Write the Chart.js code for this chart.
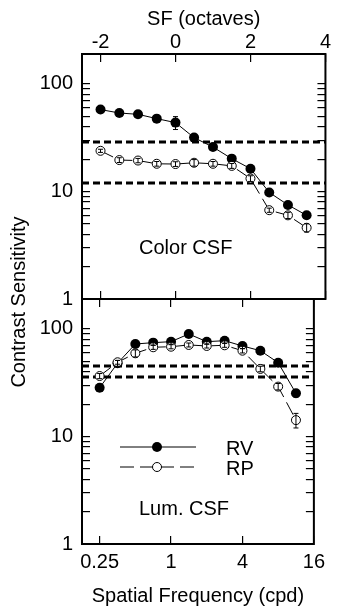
<!DOCTYPE html>
<html>
<head>
<meta charset="utf-8">
<script src="https://cdn.jsdelivr.net/npm/chart.js@4.4.1/dist/chart.umd.min.js"></script>
<style>
  body { margin: 0; background: #fff; }
  #wrap { position: relative; width: 339px; height: 611px; overflow: hidden; }
  canvas { position: absolute; left: 0; top: 0; }
  #ylab {
    position: absolute; left: -131.5px; top: 290px; width: 300px; height: 24px;
    line-height: 24px; text-align: center; transform: rotate(-90deg);
    font: 20px "Liberation Sans", Arial, sans-serif; color: #000;
  }
</style>
</head>
<body>
<div id="wrap">
  <canvas id="colorChart" width="339" height="611"></canvas>
  <canvas id="lumChart" width="339" height="611"></canvas>
  <div id="ylab">Contrast Sensitivity</div>
</div>
<script>
// spatial frequencies (cpd), half-octave steps
const freqs = [0.25, 0.354, 0.5, 0.707, 1, 1.41, 2, 2.83, 4, 5.66, 8, 11.3];
const octaveTicks = [-2, 0, 2, 4];
const cpdTicks = [0.25, 1, 4, 16];
const sensTicks = [1, 10, 100];
const sensMinor = [2, 3, 4, 5, 6, 7, 8, 9, 20, 30, 40, 50, 60, 70, 80, 90];

// Color CSF
const colorRV = [57.8, 53.7, 52.2, 47.6, 43.7, 31.7, 25.9, 20.2, 16.3, 9.8, 7.5, 6.0];
const colorRVErr = [2, 2, 2, 2, 6, 1.5, 1.2, 1, 1, 0.5, 0.4, 0.3];
const colorRP = [23.9, 19.6, 19.4, 18.1, 18.0, 18.5, 18.1, 17.3, 13.2, 6.7, 6.0, 4.6];
const colorRPErr = [0.8, 1.0, 0.9, 0.9, 0.9, 1.3, 0.9, 0.9, 0.8, 0.3, 0.4, 0.4];
const colorCrit = [28.8, 12.0];

// Luminance CSF
const lumRV = [28.4, 48.0, 72.5, 74.6, 76.2, 89.8, 76.2, 77.8, 69.5, 62.8, 48.6, 25.2];
const lumRVErr = [2, 3, 4, 4, 4, 5, 4, 4, 4, 3, 3, 2];
const lumRP = [36.5, 49.0, 59.4, 67.6, 68.4, 71.0, 69.5, 70.5, 62.8, 42.5, 29.1, 14.2];
const lumRPErr = [2, 2, 4.5, 3, 3, 3, 3, 3, 3, 2.5, 2, 2.2];
const lumCrit = [45.3, 35.8];

const X_MIN = Math.pow(2, -2.494);
const X_MAX = 16;
const Y_MIN = 1;
const Y_MAX = 190;

Chart.defaults.font.family = '"Liberation Sans", Arial, sans-serif';
Chart.defaults.font.size = 20;
Chart.defaults.color = '#000';

// ticks pointing into the plot, drawn by the scales themselves
const inTicks = { display: true, drawOnChartArea: false, drawTicks: true, tickLength: -8, color: '#000', lineWidth: 1.2 };

function pts(vals) {
  return vals.map((v, i) => ({ x: freqs[i], y: v }));
}

function critSets(levels) {
  return levels.map(v => ({
    data: [{ x: X_MIN, y: v }, { x: X_MAX, y: v }],
    borderColor: '#000', borderWidth: 3, borderDash: [7, 4],
    pointRadius: 0, order: 10, isCrit: true
  }));
}

function dataSets(rv, rvErr, rp, rpErr) {
  return [
    {
      label: 'RV', data: pts(rv), errors: rvErr,
      borderColor: '#000', borderWidth: 1,
      pointRadius: 5, pointBackgroundColor: '#000', pointBorderColor: '#000', pointBorderWidth: 0,
      order: 1
    },
    {
      label: 'RP', data: pts(rp), errors: rpErr,
      borderColor: '#000', borderWidth: 1, borderDash: [14, 6],
      pointRadius: 4.5, pointBackgroundColor: '#fff', pointBorderColor: '#000', pointBorderWidth: 1,
      order: 0
    }
  ];
}

const panelPlugin = {
  id: 'panel',
  afterDatasetsDraw(chart) {
    const { ctx, scales } = chart;
    ctx.save();
    ctx.setLineDash([]);
    ctx.strokeStyle = '#000';
    ctx.lineWidth = 1;
    chart.data.datasets.forEach((ds, i) => {
      if (!ds.errors) return;
      const meta = chart.getDatasetMeta(i);
      meta.data.forEach((p, j) => {
        const v = ds.data[j].y, e = ds.errors[j];
        const y1 = scales.y.getPixelForValue(v + e);
        const y2 = scales.y.getPixelForValue(v - e);
        ctx.beginPath();
        ctx.moveTo(p.x, y1); ctx.lineTo(p.x, y2);
        ctx.moveTo(p.x - 2.5, y1); ctx.lineTo(p.x + 2.5, y1);
        ctx.moveTo(p.x - 2.5, y2); ctx.lineTo(p.x + 2.5, y2);
        ctx.stroke();
      });
    });
    ctx.restore();
  },
  afterDraw(chart, args, opts) {
    const { ctx, chartArea: a } = chart;
    ctx.save();
    ctx.setLineDash([]);
    ctx.fillStyle = '#000';
    ctx.strokeStyle = '#000';
    ctx.lineWidth = 2;
    ctx.strokeRect(a.left, a.top, a.right - a.left, a.bottom - a.top);

    ctx.font = Chart.defaults.font.size + 'px ' + Chart.defaults.font.family;
    ctx.textBaseline = 'middle';
    ctx.textAlign = 'left';
    ctx.fillText(opts.label, a.left + 57, a.top + opts.labelY);

    if (opts.legend) {
      const sets = chart.data.datasets.filter(ds => !ds.isCrit);
      sets.forEach((ds, i) => {
        const y = a.top + 148 + i * 20;
        ctx.lineWidth = 1;
        ctx.setLineDash(ds.borderDash || []);
        ctx.beginPath();
        ctx.moveTo(a.left + 38, y); ctx.lineTo(a.left + 114, y);
        ctx.stroke();
        ctx.setLineDash([]);
        ctx.beginPath();
        ctx.arc(a.left + 75, y, ds.pointRadius, 0, Math.PI * 2);
        ctx.fillStyle = ds.pointBackgroundColor;
        ctx.fill();
        if (ds.pointBorderWidth) ctx.stroke();
        ctx.fillStyle = '#000';
        ctx.fillText(ds.label, a.left + 144, y + 2);
      });
    }
    ctx.restore();
  }
};

function allSensTicks(s) {
  s.ticks = sensTicks.concat(sensMinor).sort((p, q) => p - q)
    .filter(v => v >= Y_MIN && v <= Y_MAX).map(v => ({ value: v }));
}

function yLeft() {
  return {
    type: 'logarithmic', position: 'left', min: Y_MIN, max: Y_MAX,
    grid: inTicks, border: { display: false },
    afterBuildTicks: allSensTicks,
    ticks: { padding: 17, autoSkip: false, callback: v => sensTicks.includes(v) ? String(v) : '' },
    afterFit: s => { s.width = 82; }
  };
}

function yRight() {
  return {
    type: 'logarithmic', position: 'right', min: Y_MIN, max: Y_MAX,
    grid: inTicks, border: { display: false },
    afterBuildTicks: allSensTicks,
    ticks: { display: false, autoSkip: false },
    afterFit: s => { s.width = 11; }
  };
}

function xPlain(pos) {
  return {
    type: 'logarithmic', position: pos, min: X_MIN, max: X_MAX,
    grid: inTicks, border: { display: false },
    afterBuildTicks: s => { s.ticks = cpdTicks.map(v => ({ value: v })); },
    ticks: { display: false, autoSkip: false },
    afterFit: s => { s.height = 0; }
  };
}

new Chart(document.getElementById('colorChart'), {
  type: 'line',
  data: { datasets: dataSets(colorRV, colorRVErr, colorRP, colorRPErr).concat(critSets(colorCrit)) },
  options: {
    responsive: false, animation: false, devicePixelRatio: 1,
    layout: { padding: { left: 0, right: 0, top: 0, bottom: 312 } },
    plugins: { legend: { display: false }, tooltip: { enabled: false },
      panel: { label: 'Color CSF', labelY: 194, legend: false } },
    scales: {
      x: xPlain('bottom'),
      x2: {
        type: 'linear', position: 'top', min: -2.494, max: 4,
        grid: inTicks, border: { display: false },
        afterBuildTicks: s => { s.ticks = octaveTicks.map(v => ({ value: v })); },
        ticks: { padding: 8, autoSkip: false, callback: v => String(v) },
        title: { display: true, text: 'SF (octaves)', padding: { top: 7, bottom: 0 } },
        afterFit: s => { s.height = 54; }
      },
      y: yLeft(),
      yR: yRight()
    }
  },
  plugins: [panelPlugin]
});

new Chart(document.getElementById('lumChart'), {
  type: 'line',
  data: { datasets: dataSets(lumRV, lumRVErr, lumRP, lumRPErr).concat(critSets(lumCrit)) },
  options: {
    responsive: false, animation: false, devicePixelRatio: 1,
    layout: { padding: { left: 0, right: 0, top: 299, bottom: 0 } },
    plugins: { legend: { display: false }, tooltip: { enabled: false },
      panel: { label: 'Lum. CSF', labelY: 210, legend: true } },
    scales: {
      x: {
        type: 'logarithmic', position: 'bottom', min: X_MIN, max: X_MAX,
        grid: inTicks, border: { display: false },
        afterBuildTicks: s => { s.ticks = cpdTicks.map(v => ({ value: v })); },
        ticks: { padding: 14, maxRotation: 0, autoSkip: false, callback: v => String(v) },
        title: { display: true, text: 'Spatial Frequency (cpd)', padding: { top: 0, bottom: 3 } },
        afterFit: s => { s.height = 67; }
      },
      xT: xPlain('top'),
      y: yLeft(),
      yR: yRight()
    }
  },
  plugins: [panelPlugin]
});
</script>
</body>
</html>
